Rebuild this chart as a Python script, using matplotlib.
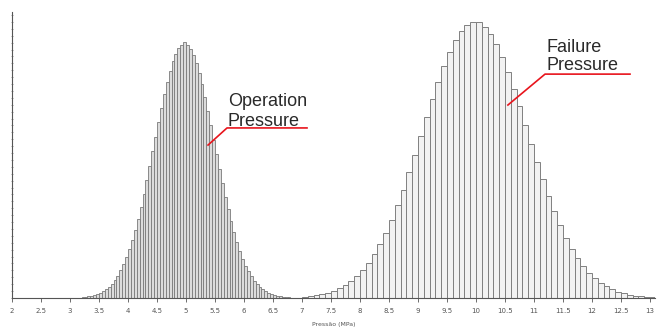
import numpy as np
import matplotlib
matplotlib.use("Agg")
import matplotlib.pyplot as plt
from matplotlib.ticker import MultipleLocator

# operating pressure histogram, 0.05 MPa bins starting at 3.20
op_start = 3.20
op_width = 0.05
op_counts = [3, 4, 6, 8, 11, 15, 19, 25, 32, 41,
             52, 66, 81, 100, 122, 148, 177, 209, 246, 286,
             329, 376, 426, 478, 531, 585, 638, 689, 738, 783,
             823, 857, 885, 905, 917, 927, 915, 901, 880, 851,
             816, 775, 729, 679, 627, 574, 520, 467, 416, 367,
             321, 278, 238, 202, 170, 142, 117, 96, 78, 63,
             50, 39, 31, 24, 18, 14, 10, 8, 6, 4,
             3, 2]

# failure pressure histogram, 0.1 MPa bins starting at 7.0
fail_start = 7.0
fail_width = 0.1
fail_counts = [5, 7, 10, 14, 19, 26, 35, 46, 61, 79,
               100, 127, 158, 194, 236, 283, 336, 393, 455, 519,
               586, 654, 720, 783, 841, 892, 935, 968, 990, 999,
               1000, 982, 956, 919, 873, 818, 758, 694, 627, 559,
               493, 430, 370, 314, 264, 219, 179, 145, 115, 91,
               71, 55, 42, 31, 23, 17, 12, 9, 6, 4,
               3]

xticks = np.arange(2, 13.01, 0.5)
xtick_labels = [f"{v:g}" for v in xticks]

op_left = op_start + op_width * np.arange(len(op_counts))
fail_left = fail_start + fail_width * np.arange(len(fail_counts))

fig = plt.figure(figsize=(6.6, 3.27), dpi=100)
ax = fig.add_axes([12 / 660, 29 / 327, 643 / 660, 286 / 327])

ax.bar(op_left, op_counts, width=op_width, align="edge",
       color="#dcdcdc", edgecolor="#7a7a7a", linewidth=0.6)
ax.bar(fail_left, fail_counts, width=fail_width, align="edge",
       color="#f2f2f2", edgecolor="#808080", linewidth=0.7)

ax.set_xlim(2, 13.086)
ax.set_ylim(0, 1036)

for side in ["top", "right"]:
    ax.spines[side].set_visible(False)
ax.spines["left"].set_color("#555555")
ax.spines["bottom"].set_color("#555555")
ax.spines["left"].set_linewidth(0.8)
ax.spines["bottom"].set_linewidth(0.8)

ax.set_xticks(xticks)
ax.set_xticklabels(xtick_labels)
ax.tick_params(axis="x", labelsize=5, colors="#555555", length=3, width=0.6, pad=4)
ax.yaxis.set_major_locator(MultipleLocator(25))
ax.tick_params(axis="y", direction="inout", length=2, width=0.5,
               colors="#777777", labelleft=False)

ax.set_xlabel("Pressão (MPa)", fontsize=4.5, color="#555555", labelpad=6)

# callouts
txt = dict(fontsize=13, family=["Liberation Sans", "DejaVu Sans"], color="#2a2a2a")
ax.text(5.72, 695, "Operation", va="baseline", **txt)
ax.text(5.72, 624, "Pressure", va="baseline", **txt)
ax.plot([5.38, 5.707, 7.086], [554, 616, 616], color="#e8141c", lw=1.2)

ax.text(11.22, 892, "Failure", va="baseline", **txt)
ax.text(11.22, 826, "Pressure", va="baseline", **txt)
ax.plot([10.55, 11.19, 12.655], [699, 811, 811], color="#e8141c", lw=1.2)

fig.savefig("out.png", dpi=100)
